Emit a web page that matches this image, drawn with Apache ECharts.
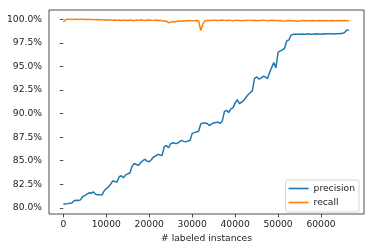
<!DOCTYPE html>
<html>
<head>
<meta charset="utf-8">
<script src="https://cdn.jsdelivr.net/npm/echarts@6/dist/echarts.min.js"></script>
<style>
  html, body { margin: 0; padding: 0; background: #fff; }
  #chart { width: 374px; height: 250px; }
</style>
</head>
<body>
<div id="chart"></div>
<script>
// labeled instances, every 500
var labeled = [];
for (var k = 0; k <= 66500; k += 500) labeled.push(k);

var precision = [
  80.39, 80.42, 80.45, 80.50, 80.52, 80.75, 80.80, 80.78, 80.85, 81.20,
  81.30, 81.45, 81.60, 81.55, 81.70, 81.45, 81.40, 81.38, 81.37, 81.80,
  82.05, 82.20, 82.50, 82.85, 82.80, 82.75, 83.30, 83.40, 83.20, 83.50,
  83.60, 83.70, 84.40, 84.70, 84.60, 84.50, 84.80, 85.00, 85.15, 84.95,
  84.90, 85.10, 85.40, 85.50, 85.67, 85.60, 85.56, 86.50, 86.60, 86.38,
  86.80, 86.90, 86.85, 86.83, 87.00, 87.15, 87.05, 87.00, 87.10, 87.15,
  87.90, 87.98, 88.05, 88.13, 88.90, 89.00, 89.00, 88.95, 88.73, 88.90,
  89.00, 89.05, 89.10, 88.95, 89.20, 90.20, 90.35, 90.10, 90.50, 90.60,
  91.10, 91.48, 91.06, 91.20, 91.40, 91.70, 92.00, 92.20, 92.40, 93.70,
  93.90, 93.66, 93.75, 93.95, 93.90, 93.70, 94.30, 94.90, 95.40, 94.85,
  96.50, 96.65, 96.75, 96.90, 97.70, 97.80, 98.30, 98.40, 98.42, 98.40,
  98.41, 98.43, 98.40, 98.42, 98.45, 98.42, 98.40, 98.43, 98.45, 98.44,
  98.42, 98.45, 98.43, 98.46, 98.45, 98.47, 98.44, 98.46, 98.45, 98.48,
  98.50, 98.60, 98.87, 98.80
];

var recall = [
  99.70, 99.95, 100.0, 100.0, 99.98, 100.0, 100.0, 99.98, 99.99, 100.0,
  99.98, 99.97, 99.98, 99.96, 99.97, 99.95, 99.96, 99.94, 99.95, 99.93,
  99.94, 99.92, 99.93, 99.90, 99.93, 99.88, 99.92, 99.86, 99.90, 99.93,
  99.87, 99.92, 99.89, 99.85, 99.92, 99.88, 99.94, 99.90, 99.86, 99.90,
  99.93, 99.90, 99.88, 99.92, 99.86, 99.90, 99.85, 99.78, 99.82, 99.62,
  99.70, 99.75, 99.70, 99.78, 99.82, 99.80, 99.85, 99.82, 99.86, 99.84,
  99.85, 99.83, 99.86, 99.85, 98.80, 99.50, 99.85, 99.88, 99.86, 99.90,
  99.88, 99.90, 99.87, 99.89, 99.92, 99.88, 99.86, 99.90, 99.88, 99.85,
  99.88, 99.90, 99.87, 99.85, 99.88, 99.86, 99.90, 99.88, 99.86, 99.89,
  99.85, 99.88, 99.86, 99.90, 99.88, 99.85, 99.87, 99.89, 99.86, 99.88,
  99.85, 99.87, 99.82, 99.80, 99.84, 99.86, 99.83, 99.85, 99.80, 99.78,
  99.82, 99.84, 99.86, 99.84, 99.85, 99.83, 99.86, 99.84, 99.85, 99.87,
  99.84, 99.86, 99.85, 99.83, 99.85, 99.86, 99.84, 99.85, 99.86, 99.84,
  99.85, 99.86, 99.85, 99.85
];

var xTicks = [0, 10000, 20000, 30000, 40000, 50000, 60000];
var yTicks = [80, 82.5, 85, 87.5, 90, 92.5, 95, 97.5, 100];

function pairs(ys) {
  return labeled.map(function (x, i) { return [x, ys[i]]; });
}

var chart = echarts.init(document.getElementById("chart"));
var font = "DejaVu Sans";
chart.setOption({
  animation: false,
  grid: {
    left: 49, right: 10, top: 10, bottom: 36,
    show: true, borderColor: "#222", borderWidth: 0.8
  },
  legend: {
    data: ["precision", "recall"],
    orient: "vertical",
    right: 15, top: 180,
    icon: "rect",
    itemWidth: 20, itemHeight: 1.6, itemGap: 3,
    padding: [3, 4, 4, 3],
    backgroundColor: "rgba(255,255,255,0.8)",
    borderColor: "#ccc", borderWidth: 0.8, borderRadius: 2,
    textStyle: { fontFamily: font, fontSize: 9.2, color: "#222", lineHeight: 11 }
  },
  xAxis: {
    type: "value",
    min: -3333, max: 70000,
    name: "# labeled instances",
    nameLocation: "middle",
    nameGap: 18,
    nameTextStyle: { fontFamily: font, fontSize: 9.2, color: "#222" },
    splitLine: { show: false },
    axisLine: { show: false },
    axisTick: { show: true, inside: false, length: 3.5, customValues: xTicks, lineStyle: { color: "#222", width: 0.8 } },
    axisLabel: {
      customValues: xTicks, margin: 6, fontFamily: font, fontSize: 9.2, color: "#222",
      formatter: function (v) { return String(v); }
    }
  },
  yAxis: {
    type: "value",
    min: 79.35, max: 100.98,
    splitLine: { show: false },
    axisLine: { show: false },
    axisTick: { show: true, inside: false, length: 3.5, customValues: yTicks, lineStyle: { color: "#222", width: 0.8 } },
    axisLabel: {
      customValues: yTicks, margin: 7, fontFamily: font, fontSize: 9.2, color: "#222",
      formatter: function (v) { return v.toFixed(1) + "%"; }
    }
  },
  series: [
    {
      name: "precision", type: "line", data: pairs(precision),
      symbol: "none", lineStyle: { color: "#1f77b4", width: 1.5 }, itemStyle: { color: "#1f77b4" }
    },
    {
      name: "recall", type: "line", data: pairs(recall),
      symbol: "none", lineStyle: { color: "#ff7f0e", width: 1.5 }, itemStyle: { color: "#ff7f0e" }
    }
  ]
});
</script>
</body>
</html>
